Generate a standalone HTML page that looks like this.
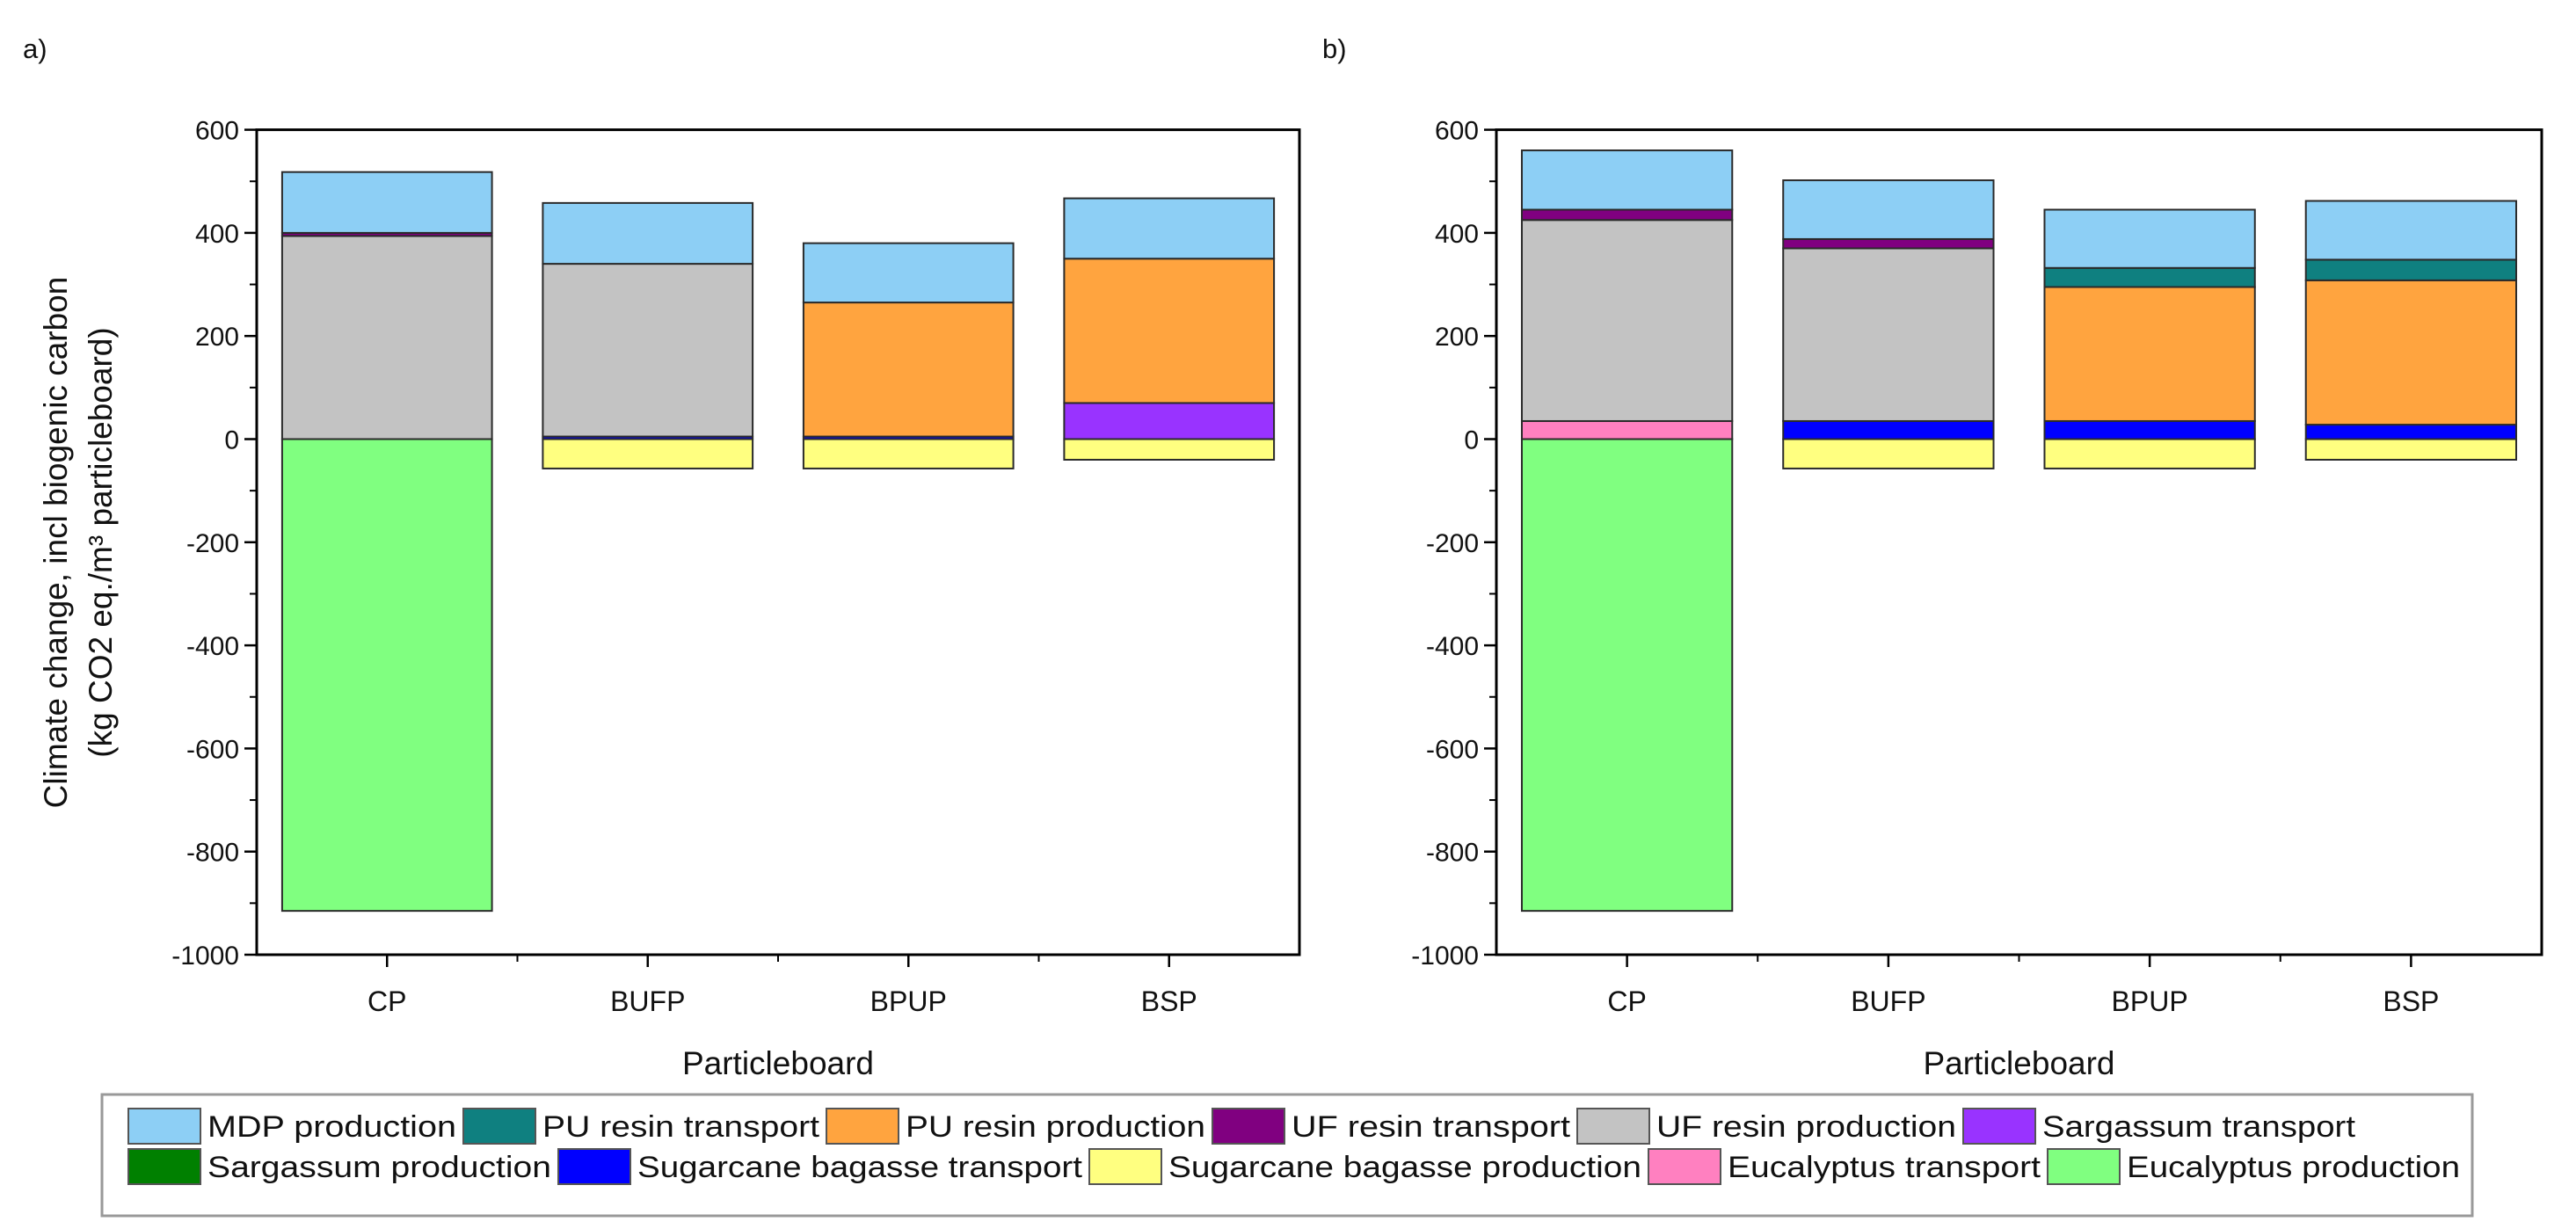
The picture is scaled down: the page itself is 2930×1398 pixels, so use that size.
<!DOCTYPE html>
<html><head><meta charset="utf-8"><style>
html,body{margin:0;padding:0;background:#fff;}
svg{display:block;font-family:"Liberation Sans",Arial,sans-serif;}
</style></head><body>
<svg id="chart" width="2930" height="1398" viewBox="0 0 2930 1398"></svg>
<script>
const categories = ["CP","BUFP","BPUP","BSP"];
const seriesNames = ["MDP production","PU resin transport","PU resin production","UF resin transport","UF resin production","Sargassum transport","Sargassum production","Sugarcane bagasse transport","Sugarcane bagasse production","Eucalyptus transport","Eucalyptus production"];
const seriesColors = ["#8dcff5","#0f8080","#ffa43f","#800080","#c3c3c3","#9933ff","#008000","#0000ff","#ffff80","#ff80c0","#80ff80"];
const yTicks = [600,400,200,0,-200,-400,-600,-800,-1000];
// panel a values per series [CP, BUFP, BPUP, BSP]
const aMDP = [118,118,115,117];
const aPUTransport = [0,0,0,0];
const aPUProduction = [0,0,260,280];
const aUFTransport = [6,0,0,0];
const aUFProduction = [394,335,0,0];
const aSargTransport = [0,0,0,70];
const aSargProduction = [0,0,0,0];
const aBagTransport = [0,5,5,0];
const aBagProduction = [0,-57,-57,-40];
const aEucTransport = [0,0,0,0];
const aEucProduction = [-915,0,0,0];
// panel b
const bMDP = [115,114,113,114];
const bPUTransport = [0,0,37,40];
const bPUProduction = [0,0,260,280];
const bUFTransport = [20,18,0,0];
const bUFProduction = [390,335,0,0];
const bSargTransport = [0,0,0,0];
const bSargProduction = [0,0,0,0];
const bBagTransport = [0,35,35,28];
const bBagProduction = [0,-57,-57,-40];
const bEucTransport = [35,0,0,0];
const bEucProduction = [-915,0,0,0];

const panelA = [aMDP,aPUTransport,aPUProduction,aUFTransport,aUFProduction,aSargTransport,aSargProduction,aBagTransport,aBagProduction,aEucTransport,aEucProduction];
const panelB = [bMDP,bPUTransport,bPUProduction,bUFTransport,bUFProduction,bSargTransport,bSargProduction,bBagTransport,bBagProduction,bEucTransport,bEucProduction];
const stackOrder = [10,9,8,7,6,5,4,3,2,1,0];

const NS="http://www.w3.org/2000/svg";
const svg=document.getElementById('chart');
function mk(tag,attrs,parent){const e=document.createElementNS(NS,tag);for(const k in attrs)e.setAttribute(k,attrs[k]);(parent||svg).appendChild(e);return e;}

function drawPanel(data,x0,x1,label,labelX,pname){
  const yTop=147.6,yBot=1086,vMax=600,vMin=-1000;
  const y=v=>yTop+(vMax-v)/(vMax-vMin)*(yBot-yTop);
  const slot=(x1-x0)/categories.length;
  const xc=i=>x0+slot*(i+0.5);
  const g=mk('g',{});
  
  
  const pl=mk('text',{x:labelX,y:66,'font-size':31,fill:'#111'},g);pl.textContent=label;
  
  
  const bw=slot*0.805;
  categories.forEach((c,i)=>{
    let pos=0,neg=0;
    stackOrder.forEach(s=>{
      const v=data[s][i];
      if(!v)return;
      let top,bot;
      if(v>0){bot=pos;top=pos+v;pos=top;}else{top=neg;bot=neg+v;neg=bot;}
      const r=mk('rect',{x:xc(i)-bw/2,y:y(top),width:bw,height:y(bot)-y(top),fill:seriesColors[s],stroke:'#2a2a2a','stroke-width':2},g);
      
      
    });
    const t=mk('text',{x:xc(i),y:1150,'font-size':32,'text-anchor':'middle',fill:'#111'},g);t.textContent=c;
    
    
    mk('line',{x1:xc(i),x2:xc(i),y1:yBot,y2:yBot+14,stroke:'#000','stroke-width':2.5},g);
  });
  for(let i=1;i<categories.length;i++) mk('line',{x1:x0+slot*i,x2:x0+slot*i,y1:yBot,y2:yBot+8,stroke:'#000','stroke-width':2},g);
  yTicks.forEach(v=>{
    mk('line',{x1:x0-14,x2:x0,y1:y(v),y2:y(v),stroke:'#000','stroke-width':2.5},g);
    if(v>vMin) mk('line',{x1:x0-8,x2:x0,y1:y(v-100),y2:y(v-100),stroke:'#000','stroke-width':2},g);
    const t=mk('text',{x:x0-20,y:y(v)+11,'font-size':30,'text-anchor':'end',fill:'#111'},g);t.textContent=v;
    
    
  });
  const fr=mk('rect',{x:x0,y:yTop,width:x1-x0,height:yBot-yTop,fill:'none',stroke:'#000','stroke-width':3},g);
  
  
  const xt=mk('text',{x:(x0+x1)/2,y:1222,'font-size':37,'text-anchor':'middle',fill:'#111'},g);xt.textContent='Particleboard';
  
  
  return y;
}
drawPanel(panelA,292,1478,'a)',26,'panel-a');
drawPanel(panelB,1702,2891,'b)',1504,'panel-b');

const yt=mk('text',{transform:'translate(76,617) rotate(-90)','font-size':37,'text-anchor':'middle',fill:'#111'});


const t1=mk('tspan',{x:0,y:0},yt);t1.textContent='Climate change, incl biogenic carbon';
const t2=mk('tspan',{x:0,y:51},yt);t2.textContent='(kg CO2 eq./m³ particleboard)';

const lg=mk('g',{});


mk('rect',{x:116,y:1245,width:2696,height:138,fill:'#fff',stroke:'#999','stroke-width':3},lg);
const legX=[146,527,940,1379,1794,2233,146,635,1239,1875,2329];
const legRow=[0,0,0,0,0,0,1,1,1,1,1];
const rowEnd=[2679,2798];
seriesNames.forEach((n,i)=>{
  const yy=legRow[i]?1307:1261;
  const sw=mk('rect',{x:legX[i],y:yy,width:82,height:40,fill:seriesColors[i],stroke:'#555','stroke-width':2},lg);
  
  
  const tx=legX[i]+90;
  const end=(i+1<seriesNames.length && legRow[i+1]===legRow[i])?legX[i+1]-8:rowEnd[legRow[i]];
  const t=mk('text',{x:tx,y:yy+32,'font-size':34,fill:'#111',textLength:end-tx,lengthAdjust:'spacingAndGlyphs'},lg);t.textContent=n;
  
  
});
</script>
</body></html>
